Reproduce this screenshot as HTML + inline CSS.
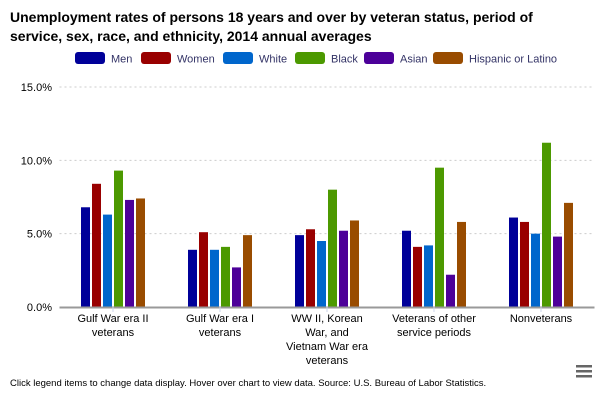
<!DOCTYPE html>
<html><head><meta charset="utf-8"><style>
body{margin:0;width:600px;height:400px;background:#fff;font-family:"Liberation Sans",sans-serif;overflow:hidden;position:relative}
.t{position:absolute;left:10px;top:8px;font-size:14px;font-weight:bold;color:#000;line-height:19px}
</style></head><body>
<div class="t">Unemployment rates of persons 18 years and over by veteran status, period of<br>service, sex, race, and ethnicity, 2014 annual averages</div>
<svg id="c" width="600" height="400" style="position:absolute;left:0;top:0"></svg>
<script>
const categories=[["Gulf War era II","veterans"],["Gulf War era I","veterans"],["WW II, Korean","War, and","Vietnam War era","veterans"],["Veterans of other","service periods"],["Nonveterans"]];
const seriesNames=["Men","Women","White","Black","Asian","Hispanic or Latino"];
const seriesColors=["#000099","#990000","#0066cc","#4c9900","#4c0099","#994c00"];
const men=[6.8,3.9,4.9,5.2,6.1];
const women=[8.4,5.1,5.3,4.1,5.8];
const white=[6.3,3.9,4.5,4.2,5.0];
const black=[9.3,4.1,8.0,9.5,11.2];
const asian=[7.3,2.7,5.2,2.2,4.8];
const hispanic=[7.4,4.9,5.9,5.8,7.1];
const yTicks=[0,5,10,15];
const yTickLabels=["0.0%","5.0%","10.0%","15.0%"];
const series=[men,women,white,black,asian,hispanic];
const svg=document.getElementById('c');const NS='http://www.w3.org/2000/svg';
function mk(t,a,p){const e=document.createElementNS(NS,t);for(const k in a)e.setAttribute(k,a[k]);(p||svg).appendChild(e);return e;}
const L=59.5,R=594.5,T=87,B=307;
const y=v=>B-(v/15)*(B-T);
const cw=(R-L)/categories.length;
const xc=i=>L+cw*(i+0.5);
yTicks.forEach((v,i)=>{
 if(v>0){const g=mk('line',{x1:L,x2:R,y1:y(v),y2:y(v),stroke:'#ccc','stroke-dasharray':'2,3'});
 
 }
 const t=mk('text',{x:52,y:y(v)+4,'text-anchor':'end','font-size':11,fill:'#000'});t.textContent=yTickLabels[i];
 
 
});
series.forEach((s,si)=>s.forEach((v,ci)=>{
 const x=xc(ci)-32+si*11;
 const r=mk('rect',{x:x,y:y(v),width:9,height:B-y(v),fill:seriesColors[si]});
 
 
}));
const ax=mk('line',{x1:L,x2:R,y1:B+0.5,y2:B+0.5,stroke:'#999','stroke-width':2});


categories.forEach((c,ci)=>{
 const tk=mk('line',{x1:xc(ci),x2:xc(ci),y1:B,y2:B+5,stroke:'#ccd6eb'});
 
 
 const t=mk('text',{x:xc(ci),y:B+15,'text-anchor':'middle','font-size':11,fill:'#000'});
 
 
 c.forEach((ln,k)=>{const s=mk('tspan',{x:xc(ci),dy:k?14:0},t);s.textContent=ln;});
});
const lx=[75,141,223,295,364,433];
seriesNames.forEach((n,i)=>{
 const g=mk('g',{});
 
 
 mk('rect',{x:lx[i],y:52,width:30,height:12,rx:3,fill:seriesColors[i]},g);
 const t=mk('text',{x:lx[i]+36,y:62.5,'font-size':11,fill:'#333366'},g);t.textContent=n;
});
const f=mk('text',{x:10,y:386,'font-size':9.5,fill:'#000'});f.textContent="Click legend items to change data display. Hover over chart to view data. Source: U.S. Bureau of Labor Statistics.";


const m=mk('g',{});


[365,370,375].forEach(yy=>mk('rect',{x:576,y:yy,width:16,height:2.5,fill:'#666'},m));
</script>
</body></html>
